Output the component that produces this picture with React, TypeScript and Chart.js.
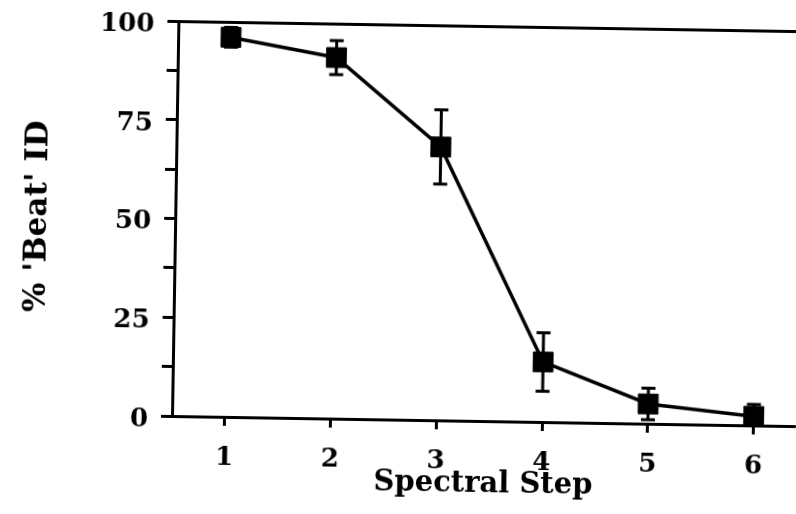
import { useEffect, useRef } from "react";
import { Chart, registerables } from "chart.js";

Chart.register(...registerables);

// Identification data: percent of "Beat" responses per spectral step, with error bars
const steps = [1, 2, 3, 4, 5, 6];
const beatPercent = [96.1, 91.4, 69.2, 15.2, 5.0, 2.3];
const beatError = [2.5, 4.3, 9.4, 7.4, 4.0, 3.0];

// Axis ticks: labelled every 25, unlabelled marks in between
const yTickValues = [0, 12.5, 25, 37.5, 50, 62.5, 75, 87.5, 100];
const yLabelValues = [0, 25, 50, 75, 100];

const xTitle = "Spectral Step";
const yTitle = "% 'Beat' ID";

const FAMILY = "'DejaVu Serif', 'Liberation Serif', serif";
const INK = "#000";

// Vertical error bars with short caps, drawn through the chart's scales
const errorBars = {
  id: "errorBars",
  afterDatasetsDraw(chart: any) {
    const { ctx, scales } = chart;
    const x = scales.x;
    const y = scales.y;
    ctx.save();
    ctx.strokeStyle = INK;
    ctx.lineWidth = 3;
    ctx.lineCap = "butt";
    steps.forEach((s, i) => {
      const px = x.getPixelForValue(s);
      const top = y.getPixelForValue(beatPercent[i] + beatError[i]);
      const bot = y.getPixelForValue(Math.max(0, beatPercent[i] - beatError[i]));
      ctx.beginPath();
      ctx.moveTo(px, top);
      ctx.lineTo(px, bot);
      ctx.moveTo(px - 7, top);
      ctx.lineTo(px + 7, top);
      ctx.moveTo(px - 7, bot);
      ctx.lineTo(px + 7, bot);
      ctx.stroke();
    });
    ctx.restore();
  },
};

export default function App() {
  const canvasRef = useRef<HTMLCanvasElement | null>(null);

  useEffect(() => {
    const canvas = canvasRef.current;
    if (!canvas) return;

    const chart = new Chart(canvas, {
      type: "line",
      data: {
        datasets: [
          {
            data: steps.map((s, i) => ({ x: s, y: beatPercent[i] })),
            borderColor: INK,
            backgroundColor: INK,
            borderWidth: 3.5,
            pointStyle: "rect",
            pointRadius: 14,
            pointBorderWidth: 1,
            pointBorderColor: INK,
            pointBackgroundColor: INK,
            tension: 0,
            clip: false,
          },
        ],
      },
      options: {
        responsive: false,
        animation: false,
        layout: {
          autoPadding: false,
          padding: { top: 21, right: 0, bottom: 0, left: 0 },
        },
        plugins: {
          legend: { display: false },
          tooltip: { enabled: false },
        },
        scales: {
          x: {
            type: "linear",
            min: 0.5,
            max: 6.4,
            afterBuildTicks: (scale: any) => {
              scale.ticks = steps.map((v) => ({ value: v }));
            },
            afterFit: (scale: any) => {
              scale.height = 98;
              scale.paddingLeft = 0;
              scale.paddingRight = 0;
            },
            grid: {
              drawOnChartArea: false,
              tickLength: 9,
              tickColor: INK,
              lineWidth: 3,
            },
            border: { color: INK, width: 3 },
            ticks: {
              color: INK,
              padding: 17,
              font: { family: FAMILY, size: 26, weight: "bold" },
              callback: (v: any) => String(v),
            },
            title: {
              display: true,
              text: xTitle,
              color: INK,
              font: { family: FAMILY, size: 29, weight: "bold" },
              padding: { top: 0, bottom: 17 },
            },
          },
          y: {
            type: "linear",
            min: 0,
            max: 100,
            afterBuildTicks: (scale: any) => {
              scale.ticks = yTickValues.map((v) => ({ value: v }));
            },
            afterFit: (scale: any) => {
              scale.width = 172;
              scale.paddingTop = 0;
              scale.paddingBottom = 0;
            },
            grid: {
              drawOnChartArea: true,
              color: (c: any) =>
                c.tick && c.tick.value === 100 ? INK : "rgba(0,0,0,0)",
              tickColor: INK,
              tickLength: 11,
              lineWidth: 3,
            },
            border: { color: INK, width: 3 },
            ticks: {
              color: INK,
              padding: 13,
              labelOffset: 4,
              font: { family: FAMILY, size: 26, weight: "bold" },
              callback: (v: any) => (yLabelValues.includes(v) ? String(v) : ""),
            },
            title: {
              display: true,
              text: yTitle,
              color: INK,
              font: { family: FAMILY, size: 31, weight: "bold" },
              padding: { top: 16, bottom: 0 },
            },
          },
        },
      },
      plugins: [errorBars],
    });

    return () => chart.destroy();
  }, []);

  return (
    <div
      style={{
        position: "fixed",
        left: 0,
        top: 0,
        width: 796,
        height: 514,
        overflow: "hidden",
        background: "#fff",
      }}
    >
      <canvas
        ref={canvasRef}
        width={796}
        height={514}
        style={{
          display: "block",
          transform: "rotate(0.93deg)",
          transformOrigin: "172px 416px",
        }}
      />
    </div>
  );
}
